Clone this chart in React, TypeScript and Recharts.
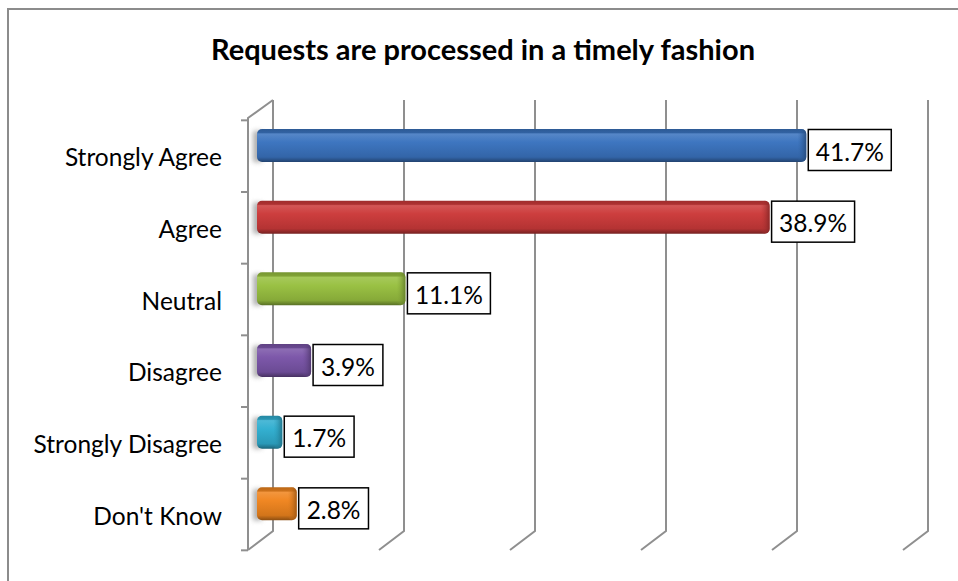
import { Bar, BarChart, CartesianGrid, Cell, LabelList, XAxis, YAxis } from "recharts";

const categories = ["Strongly Agree", "Agree", "Neutral", "Disagree", "Strongly Disagree", "Don't Know"];
const percents = [41.7, 38.9, 11.1, 3.9, 1.7, 2.8];
const barColors = ["#3a73bf", "#cc3a3a", "#98c040", "#7a55a8", "#30aed0", "#f0851e"];
const xTicks = [0, 10, 20, 30, 40, 50];

const data = categories.map((name, i) => ({ name, value: percents[i] }));

const W = 958;
const H = 581;
const LEFT = 257;
const TOP = 112;
const BOTTOM = 39;
const RIGHT = 46;
const BAND = (H - TOP - BOTTOM) / categories.length;
const GRID = "#8f8f8f";
const FONT = "Lato, 'Open Sans', sans-serif";

function shade(hex: string, amt: number) {
  const n = parseInt(hex.slice(1), 16);
  const f = (c: number) => Math.max(0, Math.min(255, Math.round(amt > 0 ? c + (255 - c) * amt : c * (1 + amt))));
  const r = f((n >> 16) & 255), g = f((n >> 8) & 255), b = f(n & 255);
  return `rgb(${r},${g},${b})`;
}

function GridLine(props: any) {
  const { x1, y1, y2 } = props;
  const bx = x1 + 16;
  const isWall = Math.abs(x1 - LEFT) < 1;
  return (
    <g key={props.key ?? `g-${x1}`}>
      <path d={`M${bx},${y1 - 12} L${bx},${y2 - 11} L${x1 - 9},${y2 + 8}`} stroke={GRID} strokeWidth={2} fill="none" />
      {isWall && (
        <path d={`M${bx},${y1 - 12} L${x1 - 9},${y1 + 6} L${x1 - 9},${y2 + 8}`} stroke={GRID} strokeWidth={2} fill="none" />
      )}
    </g>
  );
}

function CategoryTick(props: any) {
  const { y, payload, index } = props;
  const wallX = LEFT - 9;
  return (
    <g>
      <text x={222} y={y + 9} textAnchor="end" dominantBaseline="central" fontFamily={FONT} fontSize={24.5} fill="#000">
        {payload.value}
      </text>
      <line x1={wallX - 7} x2={wallX} y1={y - 27.5} y2={y - 27.5} stroke={GRID} strokeWidth={2} />
      {index === categories.length - 1 && (
        <line x1={wallX - 7} x2={wallX} y1={y + BAND - 27.5} y2={y + BAND - 27.5} stroke={GRID} strokeWidth={2} />
      )}
    </g>
  );
}

function Bar3D(props: any) {
  const { x, y, width, height, index } = props;
  const id = `bg${index}`;
  const w = Math.max(width, 4);
  return (
    <g>
      <rect x={LEFT - 4} y={y - 2} width={9} height={height + 2} fill="#7a7a7a" opacity={0.6} filter="url(#wallShadow)" />
      <rect x={x} y={y - 4} width={w + 3} height={height + 4} rx={5} ry={5} fill={`url(#${id})`} />
      <rect x={x + w - 6} y={y - 4} width={9} height={height + 4} rx={5} ry={5} fill={`url(#${id}e)`} />
    </g>
  );
}

function ValueLabel(props: any) {
  const { x, y, width, height, value } = props;
  const txt = `${Number(value).toFixed(1)}%`;
  const bw = 13.2 * txt.length + 17;
  const bx = x + width + 5;
  const cy = y + height / 2 + 2.5;
  return (
    <g>
      <rect x={bx} y={cy - 20.5} width={bw} height={41} fill="#fff" stroke="#000" strokeWidth={1.5} />
      <text x={bx + bw / 2} y={cy + 1} textAnchor="middle" dominantBaseline="central" fontFamily={FONT} fontSize={24.5} fill="#000">
        {txt}
      </text>
    </g>
  );
}

export default function App() {
  return (
    <div style={{ position: "absolute", left: 0, top: 0, width: W, height: H, overflow: "hidden", background: "#fff" }}>
      <div style={{ position: "absolute", left: 7, top: 8, width: W + 20, height: H + 20, borderLeft: "2px solid #8c8c8c", borderTop: "2px solid #8c8c8c" }} />
      <div style={{ position: "absolute", left: 4, top: 31, width: W, textAlign: "center", fontFamily: FONT, fontWeight: 700, fontSize: 29, color: "#000" }}>
        Requests are processed in a timely fashion
      </div>
      <div style={{ position: "absolute", left: 0, top: 0 }}>
        <BarChart width={W} height={H} data={data} layout="vertical" margin={{ top: TOP, right: RIGHT, bottom: BOTTOM, left: 0 }} barSize={29}>
          <defs>
            <filter id="wallShadow" x="-50%" y="-50%" width="200%" height="200%">
              <feGaussianBlur stdDeviation="2.5" />
            </filter>
            {barColors.map((c, i) => (
              <linearGradient key={`g${i}`} id={`bg${i}`} x1="0" y1="0" x2="0" y2="1">
                <stop offset="0%" stopColor={shade(c, -0.22)} />
                <stop offset="11%" stopColor={shade(c, -0.15)} />
                <stop offset="15%" stopColor={shade(c, 0.14)} />
                <stop offset="40%" stopColor={shade(c, 0.02)} />
                <stop offset="85%" stopColor={shade(c, -0.12)} />
                <stop offset="100%" stopColor={shade(c, -0.42)} />
              </linearGradient>
            ))}
            {barColors.map((c, i) => (
              <linearGradient key={`e${i}`} id={`bg${i}e`} x1="0" y1="0" x2="1" y2="0">
                <stop offset="0%" stopColor={shade(c, -0.1)} stopOpacity={0} />
                <stop offset="100%" stopColor={shade(c, -0.35)} stopOpacity={0.9} />
              </linearGradient>
            ))}
          </defs>
          <CartesianGrid horizontal={false} vertical={GridLine} />
          <XAxis type="number" domain={[0, 50]} ticks={xTicks} hide />
          <YAxis type="category" dataKey="name" width={LEFT} axisLine={false} tickLine={false} tick={CategoryTick} interval={0} />
          <Bar dataKey="value" shape={Bar3D} isAnimationActive={false}>
            {data.map((d, i) => (
              <Cell key={d.name} fill={barColors[i]} />
            ))}
            <LabelList dataKey="value" content={ValueLabel} />
          </Bar>
        </BarChart>
      </div>
    </div>
  );
}
